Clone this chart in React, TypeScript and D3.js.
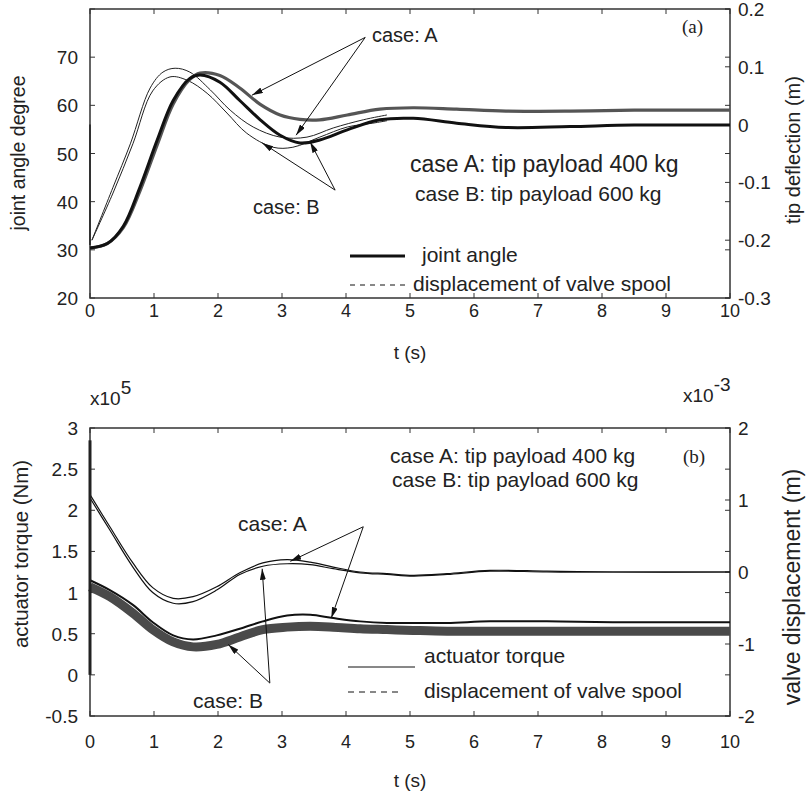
import React from "react";
import * as d3 from "d3";

// ---- panel (a): joint angle / tip deflection ----
const tTop = [0, 0.27, 0.52, 0.78, 1.05, 1.3, 1.56, 1.72, 2.03, 2.34, 2.66, 2.97, 3.28, 3.59, 4.02, 4.53, 5.05, 5.73, 6.5, 7.5, 8.5, 10];
const angleA = [30.4, 31.3, 34.6, 42.2, 51.8, 60.3, 65.4, 66.7, 66.2, 63.6, 60.2, 58.0, 57.1, 57.0, 58.0, 59.2, 59.5, 59.2, 58.8, 58.8, 59.0, 59.0];
const angleB = [30.4, 31.3, 34.9, 43.0, 52.8, 61.0, 65.6, 66.3, 64.8, 61.0, 57.0, 53.8, 52.2, 52.8, 54.9, 57.0, 57.3, 56.3, 55.4, 55.6, 55.9, 55.9];

const tThinA = [0.03, 0.36, 0.63, 0.94, 1.14, 1.33, 1.56, 1.88, 2.19, 2.55, 2.97, 3.39, 3.8, 4.27, 4.64];
const thinA = [32, 43, 52, 63.6, 66.9, 67.7, 66.9, 63.2, 59, 55.5, 53.4, 53.4, 55.3, 57, 58];
const tThinB = [0.03, 0.36, 0.67, 0.98, 1.25, 1.52, 1.83, 2.14, 2.45, 2.86, 3.17, 3.59, 4.02, 4.42, 4.64];
const thinB = [32, 41.8, 52, 63, 65.9, 65.2, 62.5, 58.4, 54.2, 51.3, 51.3, 53.4, 55.5, 56.3, 56.8];
const topSpike = [56, 31];

const angleTicks = [20, 30, 40, 50, 60, 70, 80];
const angleLabels = [20, 30, 40, 50, 60, 70];
const tipTicks = [-0.3, -0.2, -0.1, 0, 0.1, 0.2];
const tipLabels = ["-0.3", "-0.2", "-0.1", "0", "0.1", "0.2"];

// ---- panel (b): actuator torque / valve displacement ----
const tBot = [0, 0.31, 0.67, 0.98, 1.3, 1.61, 1.98, 2.34, 2.7, 3.08, 3.44, 3.8, 4.22, 4.64, 5.05, 5.58, 6.25, 7.14, 8.17, 10];
const torqueA1 = [2.19, 1.8, 1.36, 1.06, 0.93, 0.95, 1.07, 1.24, 1.36, 1.4, 1.37, 1.31, 1.25, 1.23, 1.21, 1.23, 1.27, 1.26, 1.25, 1.25];
const torqueA2 = [2.15, 1.76, 1.31, 1.0, 0.87, 0.89, 1.03, 1.22, 1.32, 1.35, 1.34, 1.29, 1.24, 1.22, 1.2, 1.22, 1.26, 1.25, 1.25, 1.25];
const torqueB = [1.15, 1.03, 0.85, 0.64, 0.48, 0.43, 0.48, 0.56, 0.65, 0.72, 0.73, 0.69, 0.65, 0.63, 0.63, 0.63, 0.65, 0.65, 0.64, 0.64];
const valveB = [1.07, 0.95, 0.75, 0.55, 0.4, 0.34, 0.37, 0.46, 0.55, 0.58, 0.59, 0.58, 0.56, 0.55, 0.54, 0.53, 0.53, 0.53, 0.53, 0.53];
const botSpike = [0, 2.85];

const torqueTicks = [-0.5, 0, 0.5, 1, 1.5, 2, 2.5, 3];
const valveTicks = [-2, -1, 0, 1, 2];
const timeTicks = d3.range(0, 11);

// annotation arrows, [t, value] from -> to
const arrowsTop = [
  [[4.3, 74.1], [2.53, 62.1]],
  [[4.3, 74.1], [3.22, 53.8]],
  [[3.83, 42.4], [2.69, 52.2]],
  [[3.83, 42.4], [3.44, 52.4]],
];
const arrowsBot = [
  [[4.27, 1.8], [3.13, 1.38]],
  [[4.27, 1.8], [3.77, 0.69]],
  [[2.81, -0.1], [2.16, 0.37]],
  [[2.81, -0.1], [2.69, 1.29]],
];

const FONT = "'Liberation Sans', Arial, Helvetica, sans-serif";
const TXT = "#222";

function Frame({ x, yL, yR, leftTicks, leftLabels, rightTicks, rightLabels, top, bottom, xLabelY }) {
  const x0 = x(0);
  const x1 = x(10);
  return (
    <g>
      <rect x={x0} y={top} width={x1 - x0} height={bottom - top} fill="none" stroke="#333" strokeWidth={1.5} />
      {timeTicks.map((t) => (
        <g key={"xt" + t}>
          <line x1={x(t)} x2={x(t)} y1={bottom} y2={bottom - 5} stroke="#333" />
          <line x1={x(t)} x2={x(t)} y1={top} y2={top + 5} stroke="#333" />
          <text x={x(t)} y={xLabelY} textAnchor="middle" fontSize={18} fill={TXT}>{t}</text>
        </g>
      ))}
      {leftTicks.map((v) => (
        <g key={"lt" + v}>
          <line x1={x0} x2={x0 + 5} y1={yL(v)} y2={yL(v)} stroke="#333" />
          <line x1={x1} x2={x1 - 5} y1={yL(v)} y2={yL(v)} stroke="#333" />
        </g>
      ))}
      {leftLabels.map((v) => (
        <text key={"ll" + v} x={x0 - 12} y={yL(v) + 7} textAnchor="end" fontSize={19} fill={TXT}>{String(v)}</text>
      ))}
      {rightTicks.map((v, i) => (
        <g key={"rt" + v}>
          <line x1={x1} x2={x1 - 5} y1={yR(v)} y2={yR(v)} stroke="#333" />
          <text x={x1 + 8} y={yR(v) + 7} fontSize={19} fill={TXT}>{rightLabels[i]}</text>
        </g>
      ))}
    </g>
  );
}

function Arrow({ x1, y1, x2, y2 }) {
  return <line x1={x1} y1={y1} x2={x2} y2={y2} stroke="#111" strokeWidth={1} markerEnd="url(#head)" />;
}

export default function App() {
  const x = d3.scaleLinear().domain([0, 10]).range([90, 730]);
  const yAngle = d3.scaleLinear().domain([20, 80]).range([298, 9]);
  const yTip = d3.scaleLinear().domain([-0.3, 0.2]).range([298, 9]);
  const yTorque = d3.scaleLinear().domain([-0.5, 3]).range([716, 428]);
  const yValve = d3.scaleLinear().domain([-2, 2]).range([716, 428]);

  const lineTop = d3.line().x((d) => x(d[0])).y((d) => yAngle(d[1])).curve(d3.curveCatmullRom.alpha(0.5));
  const lineBot = d3.line().x((d) => x(d[0])).y((d) => yTorque(d[1])).curve(d3.curveCatmullRom.alpha(0.5));

  return (
    <svg width={809} height={793} style={{ position: "absolute", left: 0, top: 0, background: "#fff" }} fontFamily={FONT}>
      <defs>
        <marker id="head" viewBox="0 0 11 6" refX={11} refY={3} markerWidth={11} markerHeight={6} markerUnits="userSpaceOnUse" orient="auto">
          <path d="M0,0 L11,3 L0,6 Z" fill="#111" />
        </marker>
      </defs>
      <rect width={809} height={793} fill="#fff" />

      {/* ---------- panel (a) ---------- */}
      <Frame x={x} yL={yAngle} yR={yTip} leftTicks={angleTicks} leftLabels={angleLabels}
        rightTicks={tipTicks} rightLabels={tipLabels} top={yAngle(80)} bottom={yAngle(20)} xLabelY={317} />

      <path d={lineTop(d3.zip(tThinA, thinA))} fill="none" stroke="#222" strokeWidth={1} />
      <path d={lineTop(d3.zip(tThinB, thinB))} fill="none" stroke="#222" strokeWidth={1} />
      <path d={d3.line().x(() => x(0)).y((v) => yAngle(v))(topSpike)} fill="none" stroke="#222" strokeWidth={1.5} />
      <path d={lineTop(d3.zip(tTop, angleA))} fill="none" stroke="#555" strokeWidth={3.2} />
      <path d={lineTop(d3.zip(tTop, angleB))} fill="none" stroke="#111" strokeWidth={3} />

      {arrowsTop.map(([a, b], i) => (
        <Arrow key={"at" + i} x1={x(a[0])} y1={yAngle(a[1])} x2={x(b[0])} y2={yAngle(b[1])} />
      ))}
      <text x={372} y={42} fontSize={20} fill={TXT}>case: A</text>
      <text x={253} y={214} fontSize={20} fill={TXT}>case: B</text>
      <text x={410} y={172} fontSize={23} fill={TXT}>case A: tip payload 400 kg</text>
      <text x={415} y={201} fontSize={21} fill={TXT}>case B: tip payload 600 kg</text>
      <text x={682} y={33} fontSize={19} fill={TXT} fontFamily="'Liberation Serif', 'Times New Roman', serif">(a)</text>

      <line x1={350} x2={405} y1={256} y2={256} stroke="#111" strokeWidth={3} />
      <text x={422} y={262} fontSize={21} fill={TXT}>joint angle</text>
      <line x1={350} x2={405} y1={285} y2={285} stroke="#111" strokeWidth={1} strokeDasharray="5 5" />
      <text x={413} y={291} fontSize={21} fill={TXT}>displacement of valve spool</text>

      <text transform="translate(18,153) rotate(-90)" textAnchor="middle" dy="0.35em" fontSize={19.5} fill={TXT}>joint angle degree</text>
      <text transform="translate(793,150) rotate(-90)" textAnchor="middle" dy="0.35em" fontSize={20} fill={TXT}>tip deflection (m)</text>
      <text x={410} y={359} textAnchor="middle" fontSize={19} fill={TXT}>t (s)</text>

      {/* ---------- panel (b) ---------- */}
      <Frame x={x} yL={yTorque} yR={yValve} leftTicks={torqueTicks} leftLabels={torqueTicks}
        rightTicks={valveTicks} rightLabels={valveTicks.map(String)} top={yTorque(3)} bottom={yTorque(-0.5)} xLabelY={748} />

      <path d={lineBot(d3.zip(tBot, valveB))} fill="none" stroke="#4a4a4a" strokeWidth={9} />
      <path d={lineBot(d3.zip(tBot, torqueB))} fill="none" stroke="#111" strokeWidth={2} />
      <path d={lineBot(d3.zip(tBot, torqueA1))} fill="none" stroke="#111" strokeWidth={1.2} />
      <path d={lineBot(d3.zip(tBot, torqueA2))} fill="none" stroke="#111" strokeWidth={1.2} />
      <path d={d3.line().x(() => x(0)).y((v) => yTorque(v))(botSpike)} fill="none" stroke="#222" strokeWidth={3} />

      {arrowsBot.map(([a, b], i) => (
        <Arrow key={"ab" + i} x1={x(a[0])} y1={yTorque(a[1])} x2={x(b[0])} y2={yTorque(b[1])} />
      ))}
      <text x={238} y={531} fontSize={21} fill={TXT}>case: A</text>
      <text x={193} y={708} fontSize={21} fill={TXT}>case: B</text>
      <text x={390} y={463} fontSize={21} fill={TXT}>case A: tip payload 400 kg</text>
      <text x={392} y={487} fontSize={21} fill={TXT}>case B: tip payload 600 kg</text>
      <text x={683} y={463} fontSize={19} fill={TXT} fontFamily="'Liberation Serif', 'Times New Roman', serif">(b)</text>

      <line x1={348} x2={415} y1={667} y2={667} stroke="#111" strokeWidth={1} />
      <text x={424} y={663} fontSize={21} fill={TXT}>actuator torque</text>
      <line x1={348} x2={402} y1={692} y2={692} stroke="#111" strokeWidth={1} strokeDasharray="6 5" />
      <text x={424} y={698} fontSize={21} fill={TXT}>displacement of valve spool</text>

      <text x={90} y={405} fontSize={19} fill={TXT}>x10<tspan dy={-11} fontSize={19}>5</tspan></text>
      <text x={683} y={402} fontSize={19} fill={TXT}>x10<tspan dy={-11} fontSize={19}>-3</tspan></text>

      <text transform="translate(21,554) rotate(-90)" textAnchor="middle" dy="0.35em" fontSize={20.4} fill={TXT}>actuator torque (Nm)</text>
      <text transform="translate(792,587) rotate(-90)" textAnchor="middle" dy="0.35em" fontSize={23} fill={TXT}>valve displacement (m)</text>
      <text x={410} y={787} textAnchor="middle" fontSize={19} fill={TXT}>t (s)</text>
    </svg>
  );
}
